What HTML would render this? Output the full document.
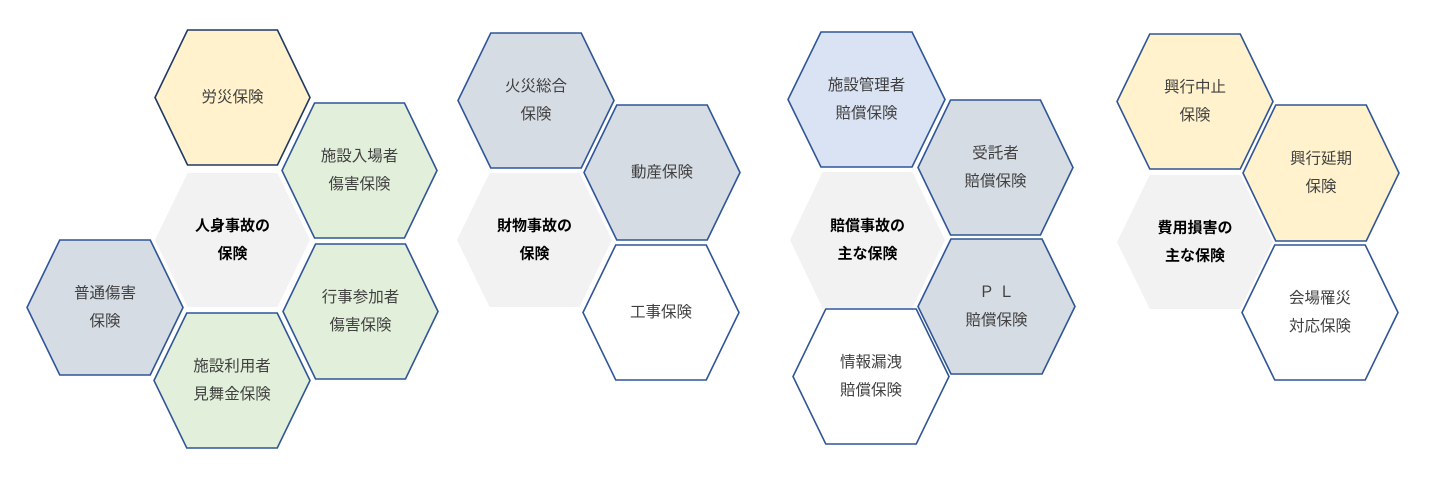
<!DOCTYPE html>
<html><head><meta charset="utf-8"><style>
html,body{margin:0;padding:0;background:#fff;}
svg{display:block;}
text{font-family:"Liberation Sans","Noto Sans CJK JP",sans-serif;font-size:15.5px;fill:#404040;text-anchor:middle;dominant-baseline:central;}
text.b{font-weight:bold;fill:#000;font-size:15px;}
</style></head><body>
<svg width="1437" height="486" viewBox="0 0 1437 486" xmlns="http://www.w3.org/2000/svg">
<g id="hexes" stroke-width="1.6"></g>
<script>
var H=[
[155,30,310,165,"#fff2cc","#1f3864",["労災保険"]],
[282,103,437,238,"#e2efda","#2f5597",["施設入場者","傷害保険"]],
[155,173,310,307,"#f2f2f2","none",["人身事故の","保険"],1],
[283,244,438,379,"#e2efda","#2f5597",["行事参加者","傷害保険"]],
[27,240,183,375,"#d6dce4","#2f5597",["普通傷害","保険"]],
[154,313,310,448,"#e2efda","#2f5597",["施設利用者","見舞金保険"]],
[458,33,614,168,"#d6dce4","#2f5597",["火災総合","保険"]],
[584,105,740,240,"#d6dce4","#2f5597",["動産保険"]],
[457,173,612,307,"#f2f2f2","none",["財物事故の","保険"],1],
[583,245,739,380,"#ffffff","#2f5597",["工事保険"]],
[788,32,945,167,"#dae3f3","#2f5597",["施設管理者","賠償保険"]],
[918,100,1073,235,"#d6dce4","#2f5597",["受託者","賠償保険"]],
[790,172,945,308,"#f2f2f2","none",["賠償事故の","主な保険"],1],
[918,239,1075,374,"#d6dce4","#2f5597",["Ｐ Ｌ","賠償保険"]],
[793,309,949,444,"#ffffff","#2f5597",["情報漏洩","賠償保険"]],
[1117,34,1273,169,"#fff2cc","#2f5597",["興行中止","保険"]],
[1243,105,1399,241,"#fff2cc","#2f5597",["興行延期","保険"]],
[1117,175,1273,309,"#f2f2f2","none",["費用損害の","主な保険"],1],
[1242,245,1398,380,"#ffffff","#2f5597",["会場罹災","対応保険"]]
];
var g=document.getElementById("hexes"),ns="http://www.w3.org/2000/svg";
H.forEach(function(h){
 var l=h[0],t=h[1],r=h[2],b=h[3],w=r-l,i=w*0.21,cy=(t+b)/2,cx=(l+r)/2;
 var p=document.createElementNS(ns,"polygon");
 p.setAttribute("points",[l+i,t,r-i,t,r,cy,r-i,b,l+i,b,l,cy].join(" ").replace(/(\S+) (\S+)/g,"$1,$2"));
 p.setAttribute("fill",h[4]);p.setAttribute("stroke",h[5]);g.appendChild(p);
 var L=h[6];
 L.forEach(function(s,k){
  var tx=document.createElementNS(ns,"text");
  tx.setAttribute("x",cx);tx.setAttribute("y",cy+(k-(L.length-1)/2)*28);
  if(h[7])tx.setAttribute("class","b");
  tx.textContent=s;g.appendChild(tx);
 });
});
</script>
</svg>
</body></html>
